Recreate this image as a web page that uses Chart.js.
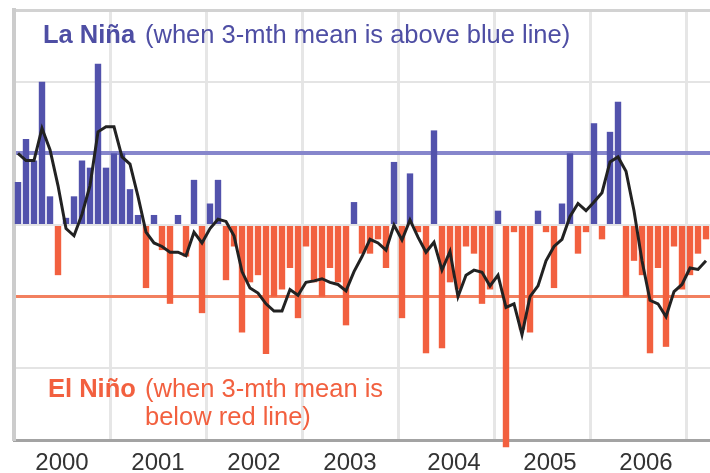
<!DOCTYPE html>
<html>
<head>
<meta charset="utf-8">
<script src="https://cdn.jsdelivr.net/npm/chart.js@4"></script>
<style>
  html, body { margin: 0; padding: 0; background: #fff; overflow: hidden; }
</style>
</head>
<body>
<canvas id="chart" width="710" height="473"></canvas>
<script>
// Years shown along the bottom (2007 is cut off after March)
const years = [2000, 2001, 2002, 2003, 2004, 2005, 2006, 2007];
const monthNames = ['Jan', 'Feb', 'Mar', 'Apr', 'May', 'Jun', 'Jul', 'Aug', 'Sep', 'Oct', 'Nov', 'Dec'];

// Monthly SOI values
const soi2000 = [6, 12, 9, 20, 4, -7, 1, 4, 9, 8, 22.5, 8];
const soi2001 = [10, 10, 5, 1.4, -8.8, 1.4, -3.5, -11, 1.4, -4.4, 6.3, -12.3];
const soi2002 = [3, 6.3, -7.7, -3, -15, -8, -7, -18, -10, -9, -6, -13];
const soi2003 = [-3, -8, -10, -6, -8, -14, 3.2, -4, -4, -2, -6, 8.8];
const soi2004 = [-13, 7.2, -1, -17.9, 13.2, -17.2, -8, -9, -3, -4, -11, -9];
const soi2005 = [2, -31, -1, -14.6, -15, 2, -1, -8.8, 3, 10, -4, -1];
const soi2006 = [14.2, -2, 13, 17.2, -10, -5, -7, -17.9, -6, -17, -3, -9];
const soi2007 = [-7, -4, -2];

// 3-month mean (black line)
const mean2000 = [10, 9, 9, 13.5, 10.5, 5.5, -0.5, -1.5, 1.5, 5.5, 13, 13.7];
const mean2001 = [13.7, 9.5, 8.5, 4, -1, -2.5, -3, -3.8, -3.8, -4.3, -1, -2.5];
const mean2002 = [-0.5, 0.8, 0.5, -1.5, -6.5, -8.8, -9.5, -11, -12, -12, -9, -9.8];
const mean2003 = [-8, -7.8, -7.5, -8, -8.3, -9.2, -6.5, -4.4, -2, -2.5, -3.5, 0];
const mean2004 = [-2.1, 0.7, -1.7, -3.8, -2.4, -6.3, -3.7, -10, -7, -6.3, -6.6, -8.5];
const mean2005 = [-7, -11.5, -11, -15.3, -10, -8.5, -5, -3, -2, 1.2, 3, 2];
const mean2006 = [3.2, 4.5, 8.8, 9.5, 7.5, 2, -5, -10.5, -11, -12.8, -9.3, -8.3];
const mean2007 = [-6, -6.2, -5];

// thresholds
const laNinaLine = 10;
const elNinoLine = -10;

const soiByYear = [soi2000, soi2001, soi2002, soi2003, soi2004, soi2005, soi2006, soi2007];
const meanByYear = [mean2000, mean2001, mean2002, mean2003, mean2004, mean2005, mean2006, mean2007];

const months = years.flatMap((y, k) => soiByYear[k].map((_, m) => monthNames[m] + ' ' + y));
const soi = soiByYear.flat();
const mean3 = meanByYear.flat();

const BLUE = '#5252ac';
const RED = '#f2603f';
const FONT = '"Liberation Sans", Arial, sans-serif';

const notes = {
    id: 'notes',
    afterDatasetsDraw(chart) {
        const c = chart.ctx;
        c.save();
        c.textBaseline = 'alphabetic';
        c.fillStyle = '#4e4ea4';
        c.font = 'bold 25.5px ' + FONT;
        c.fillText('La Niña', 43, 43);
        c.font = '25.5px ' + FONT;
        c.fillText('(when 3-mth mean is above blue line)', 145, 43);

        c.fillStyle = RED;
        c.font = 'bold 25.5px ' + FONT;
        c.fillText('El Niño', 48, 397);
        c.font = '25.5px ' + FONT;
        c.fillText('(when 3-mth mean is', 145, 397);
        c.fillText('below red line)', 145, 425);
        c.restore();
    }
};

// year label sits near mid-year (the original drifts a little to the right in later years)
const yearLabel = (i) => {
    const k = Math.floor(i / 12);
    const m = i % 12;
    return m === (years[k] >= 2004 ? 7 : 6) ? String(years[k]) : '';
};

const isYearStart = (ctx) => ctx.type === 'tick' && ctx.index % 12 === 0;

new Chart(document.getElementById('chart'), {
    type: 'bar',
    data: {
        labels: months,
        datasets: [
            {
                type: 'line',
                label: '3-mth mean',
                data: mean3,
                borderColor: '#222222',
                borderWidth: 3,
                pointRadius: 0,
                tension: 0,
                order: 0
            },
            {
                label: 'SOI',
                data: soi,
                backgroundColor: soi.map(v => v >= 0 ? BLUE : RED),
                barPercentage: 0.8,
                categoryPercentage: 1,
                clip: false,
                order: 1
            }
        ]
    },
    options: {
        responsive: false,
        animation: false,
        devicePixelRatio: 1,
        layout: {autoPadding: false, padding: {top: 10, left: 0, right: 0, bottom: 0}},
        plugins: {
            legend: {display: false},
            tooltip: {enabled: false}
        },
        scales: {
            x: {
                offset: true,
                afterFit: (scale) => {
                    scale.height = 33;
                    // the plot runs off the right edge, so no room is kept for end labels
                    scale.paddingLeft = 0;
                    scale.paddingRight = 0;
                },
                grid: {
                    offset: true,
                    drawTicks: false,
                    // only year boundaries get a line
                    lineWidth: (ctx) => (isYearStart(ctx) ? 3 : 0),
                    color: (ctx) => (isYearStart(ctx) ? '#e6e6e6' : 'rgba(0,0,0,0)')
                },
                border: {display: true, color: '#a3a3a3', width: 3},
                ticks: {
                    autoSkip: false,
                    maxRotation: 0,
                    padding: 9,
                    labelOffset: -4,
                    color: '#333333',
                    font: {family: FONT, size: 24},
                    callback: (val, i) => yearLabel(i)
                }
            },
            y: {
                min: -30,
                max: 30,
                afterFit: (scale) => { scale.width = 14; },
                ticks: {display: false, stepSize: 10},
                grid: {
                    drawTicks: false,
                    color: (ctx) => {
                        const v = ctx.tick.value;
                        if (v === laNinaLine) return '#8686cc';
                        if (v === elNinoLine) return '#f2805f';
                        if (v === 30) return '#d2d2d2';
                        if (v === -30) return 'rgba(0,0,0,0)';
                        return '#e4e4e4';
                    },
                    lineWidth: (ctx) => {
                        const v = ctx.tick.value;
                        if (v === laNinaLine) return 4;
                        if (v === elNinoLine) return 3;
                        if (v === 30) return 3;
                        return 2;
                    }
                },
                border: {display: true, color: '#cccccc', width: 4}
            }
        }
    },
    plugins: [notes]
});
</script>
</body>
</html>
